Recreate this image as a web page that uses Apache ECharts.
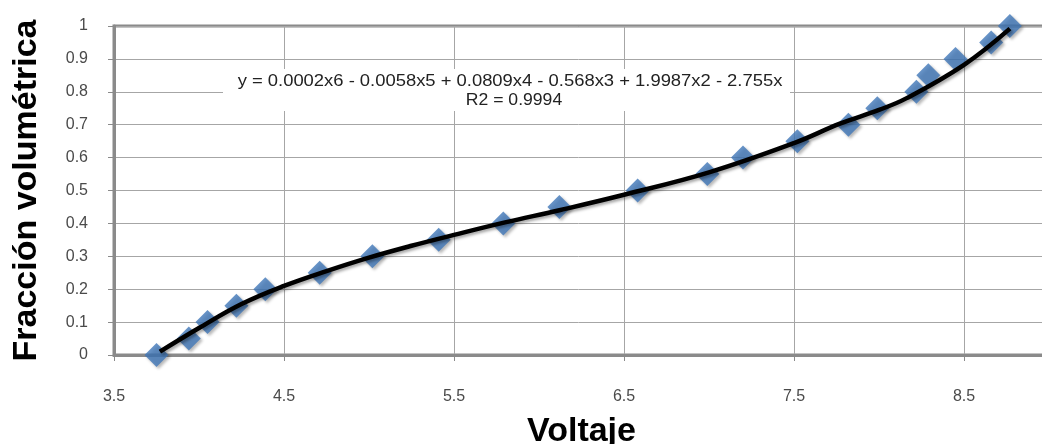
<!DOCTYPE html>
<html>
<head>
<meta charset="utf-8">
<script src="https://cdn.jsdelivr.net/npm/echarts@6/dist/echarts.min.js"></script>
<style>
  html, body { margin: 0; padding: 0; background: #fff; }
  #main { width: 1042px; height: 444px; }
</style>
</head>
<body>
<div id="main"></div>
<script>
// puntos medidos (voltaje, fracción volumétrica)
const voltaje = [3.75, 3.94, 4.05, 4.22, 4.39, 4.71, 5.02, 5.41, 5.79, 6.12, 6.58, 6.99, 7.20, 7.52, 7.82, 7.99, 8.22, 8.29, 8.45, 8.66, 8.77];
const fraccion = [0, 0.05, 0.10, 0.15, 0.20, 0.25, 0.30, 0.35, 0.40, 0.45, 0.50, 0.55, 0.60, 0.65, 0.70, 0.75, 0.80, 0.85, 0.90, 0.95, 1.0];

// linea de tendencia
const tendX = [3.77, 4.0, 4.25, 4.5, 4.75, 5.0, 5.25, 5.5, 5.8, 6.12, 6.5, 7.0, 7.5, 7.77, 8.0, 8.16, 8.5, 8.77];
const tendY = [0.01, 0.082, 0.155, 0.21, 0.255, 0.296, 0.332, 0.365, 0.403, 0.44, 0.487, 0.555, 0.644, 0.703, 0.745, 0.78, 0.882, 0.992];

const ecuacion = 'y = 0.0002x6 - 0.0058x5 + 0.0809x4 - 0.568x3 + 1.9987x2 - 2.755x';
const r2 = 'R2 = 0.9994';

let puntos = voltaje.map((v, i) => [v, fraccion[i]]);
let tendencia = tendX.map((v, i) => [v, tendY[i]]);

let myChart = echarts.init(document.getElementById('main'));
let option = {
    animation: false,
    grid: {
        left: 114, top: 26, width: 935, bottom: 89,
        outerBoundsMode: 'none', containLabel: false,
        show: true, borderColor: '#8a8a8a', borderWidth: 3
    },
    xAxis: {
        type: 'value', min: 3.5, max: 9, interval: 1,
        name: 'Voltaje', nameLocation: 'middle', nameGap: 60,
        nameTextStyle: { fontFamily: 'Liberation Sans', fontWeight: 'bold', fontSize: 34, color: '#000' },
        axisLine: { show: true, lineStyle: { color: '#8a8a8a', width: 3 } },
        axisTick: { show: true, length: 6, lineStyle: { color: '#8a8a8a' } },
        axisLabel: { margin: 34, fontFamily: 'Liberation Sans', fontSize: 16, color: '#4a4a4a',
            showMaxLabel: false, formatter: v => v.toFixed(1) },
        splitLine: { show: true, lineStyle: { color: '#a6a6a6', width: 1 } }
    },
    yAxis: {
        type: 'value', min: 0, max: 1, interval: 0.1,
        name: 'Fracción volumétrica', nameLocation: 'middle', nameGap: 70,
        nameTextStyle: { fontFamily: 'Liberation Sans', fontWeight: 'bold', fontSize: 34, color: '#000' },
        axisLine: { show: true, lineStyle: { color: '#8a8a8a', width: 3 } },
        axisTick: { show: true, length: 6, lineStyle: { color: '#8a8a8a' } },
        axisLabel: { margin: 26, fontFamily: 'Liberation Sans', fontSize: 16, color: '#4a4a4a',
            formatter: v => (v === 0 || v === 1) ? String(v) : v.toFixed(1) },
        splitLine: { show: true, lineStyle: { color: '#a6a6a6', width: 1 } }
    },
    graphic: [
        { type: 'rect', shape: { x: 223, y: 69, width: 567, height: 42 }, style: { fill: '#fff' }, z: 50 },
        { type: 'text', x: 510, y: 82, scaleX: 1.15, z: 51,
          style: { text: ecuacion, align: 'center', verticalAlign: 'middle', fontFamily: 'Liberation Sans', fontSize: 16, fill: '#222' } },
        { type: 'text', x: 514, y: 101, scaleX: 1.1, z: 51,
          style: { text: r2, align: 'center', verticalAlign: 'middle', fontFamily: 'Liberation Sans', fontSize: 16, fill: '#222' } }
    ],
    series: [
        {
            type: 'scatter', data: puntos, symbol: 'diamond', symbolSize: 24,
            itemStyle: { color: '#4077b8', shadowColor: 'rgba(0,0,0,0.35)', shadowBlur: 3, shadowOffsetX: 2, shadowOffsetY: 2 },
            z: 2
        },
        {
            type: 'line', data: tendencia, smooth: 0.4, showSymbol: false,
            lineStyle: { color: '#000', width: 4.5, shadowColor: 'rgba(0,0,0,0.35)', shadowBlur: 3, shadowOffsetX: 2, shadowOffsetY: 2 },
            z: 3
        }
    ]
};
myChart.setOption(option);
</script>
</body>
</html>
